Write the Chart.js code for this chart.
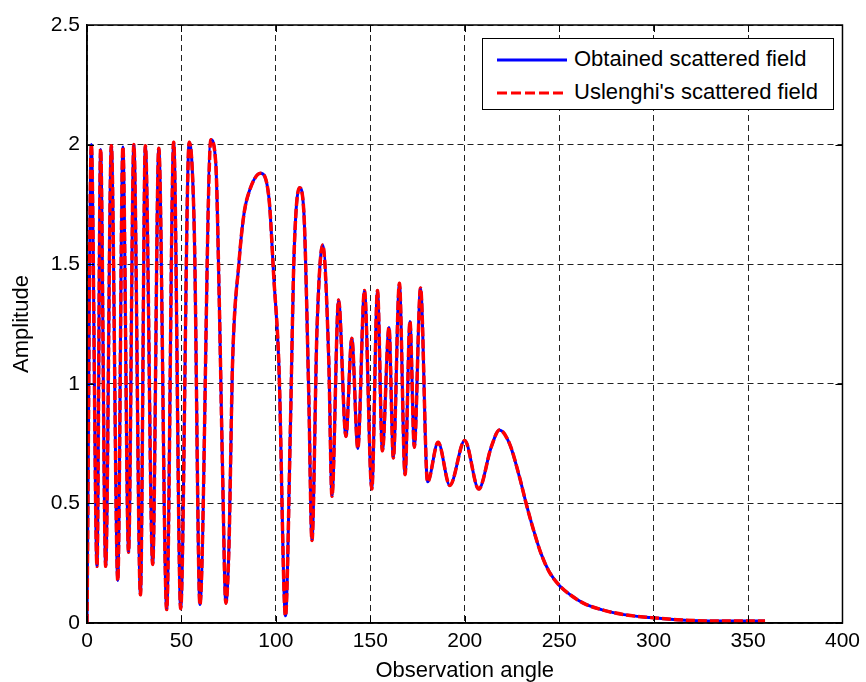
<!DOCTYPE html>
<html>
<head>
<meta charset="utf-8">
<script src="https://cdn.jsdelivr.net/npm/chart.js@4/dist/chart.umd.min.js"></script>
<style>
    html, body { margin: 0; padding: 0; background: #fff; }
    #wrap { position: relative; width: 866px; height: 682px; }
    #legend {
        position: absolute; left: 482px; top: 38px; width: 350px; height: 70px;
        border: 1px solid #000; background: #fff;
        font-family: "Liberation Sans", Arial, sans-serif; font-size: 22px; color: #000;
    }
    .item { position: absolute; left: 0; height: 30px; line-height: 30px; white-space: nowrap; }
    .item svg { position: absolute; left: 14px; top: 13px; }
    .item span { position: absolute; left: 91px; top: 0; }
</style>
</head>
<body>
<div id="wrap">
    <canvas id="myChart" width="866" height="682"></canvas>
    <div id="legend">
        <div class="item" style="top:5px">
            <svg width="72" height="6"><line x1="0" y1="3" x2="70" y2="3" stroke="#0000ff" stroke-width="3"/></svg>
            <span>Obtained scattered field</span>
        </div>
        <div class="item" style="top:38px">
            <svg width="72" height="6"><line x1="0" y1="3" x2="70" y2="3" stroke="#ff0000" stroke-width="3" stroke-dasharray="10,4"/></svg>
            <span>Uslenghi's scattered field</span>
        </div>
    </div>
</div>
<script>
// (angle in degrees, amplitude)
var angles = [
    0, 2.3, 5.3, 7.2, 9.9, 12.9, 16.3, 19.0, 22.0, 24.8,
    28.3, 30.9, 34.8, 38.0, 42.2, 45.9, 49.6, 54.1, 56.8, 59.8,
    65.6, 68.2, 70.0, 71.7, 73.5, 75.2, 77.0, 80.5, 83.1, 85.7,
    91.9, 96.3, 98.9, 101.6, 105.1, 107.7, 109.5, 112.5, 114.8,
    117.4, 119.1, 121.8, 124.8, 128.0, 129.7, 133.2, 137.1, 140.2, 143.4,
    146.9, 150.8, 153.8, 156.4, 159.9, 162.2, 165.4, 168.4, 171.0, 173.3,
    176.6, 180.3, 185.9, 192.1, 200.0, 207.4, 214.0, 218.4, 223.7, 229.0,
    232.5, 236.0, 240.4, 244.8, 250.1, 256.2, 263.3, 273.8, 284.3, 298.4,
    312.4, 333.5, 359
];
var obtainedField = [
    0, 2.00, 0.237, 1.98, 0.237, 1.995, 0.178, 1.99, 0.296, 2.00,
    0.118, 1.995, 0.245, 1.985, 0.056, 2.01, 0.06, 2.01, 1.64, 0.077,
    2.02, 1.92, 1.36, 0.665, 0.083, 0.33, 1.07, 1.51, 1.71, 1.80,
    1.88, 1.78, 1.445, 1.08, 0.03, 0.82, 1.51, 1.82, 1.72,
    0.96, 0.345, 1.235, 1.58, 1.10, 0.53, 1.35, 0.78, 1.19, 0.73,
    1.39, 0.56, 1.39, 0.72, 1.235, 0.69, 1.42, 0.62, 1.26, 0.735,
    1.40, 0.59, 0.756, 0.575, 0.763, 0.56, 0.735, 0.807, 0.75, 0.61,
    0.50, 0.40, 0.29, 0.213, 0.157, 0.116, 0.081, 0.053, 0.035, 0.0225,
    0.014, 0.008, 0.008
];
// both curves lie on top of each other in the figure
var uslenghiField = obtainedField.slice();

var xTicks = [0, 50, 100, 150, 200, 250, 300, 350, 400];
var yTicks = [0, 0.5, 1, 1.5, 2, 2.5];

var FONT = '"Liberation Sans", Arial, sans-serif';

function toPoints(xs, ys) {
    return xs.map(function(x, i) { return { x: x, y: ys[i] }; });
}

// box round the plot + little inward ticks like matlab
var boxPlugin = {
    id: 'box',
    afterDraw: function(chart) {
        var ctx = chart.ctx, a = chart.chartArea;
        var xs = chart.scales.x, ys = chart.scales.y;
        ctx.save();
        ctx.strokeStyle = '#000';
        ctx.lineWidth = 1.5;
        ctx.strokeRect(a.left, a.top, a.right - a.left, a.bottom - a.top);
        ctx.lineWidth = 1;
        ctx.beginPath();
        xTicks.forEach(function(t) {
            var px = Math.round(xs.getPixelForValue(t)) + 0.5;
            ctx.moveTo(px, a.bottom); ctx.lineTo(px, a.bottom - 7);
            ctx.moveTo(px, a.top); ctx.lineTo(px, a.top + 7);
        });
        yTicks.forEach(function(t) {
            var py = Math.round(ys.getPixelForValue(t)) + 0.5;
            ctx.moveTo(a.left, py); ctx.lineTo(a.left + 7, py);
            ctx.moveTo(a.right, py); ctx.lineTo(a.right - 7, py);
        });
        ctx.stroke();
        ctx.restore();
    }
};

var ctx = document.getElementById('myChart').getContext('2d');
var myChart = new Chart(ctx, {
    type: 'line',
    data: {
        datasets: [{
            label: "Uslenghi's scattered field",
            data: toPoints(angles, uslenghiField),
            borderColor: '#ff0000',
            borderWidth: 3.5,
            borderDash: [9, 3],
            pointRadius: 0,
            cubicInterpolationMode: 'monotone',
            fill: false,
            order: 0
        }, {
            label: 'Obtained scattered field',
            data: toPoints(angles, obtainedField),
            borderColor: '#0000ff',
            borderWidth: 3,
            pointRadius: 0,
            cubicInterpolationMode: 'monotone',
            fill: false,
            order: 1
        }]
    },
    options: {
        responsive: false,
        animation: false,
        layout: { padding: { top: 25, right: 20, left: 0, bottom: 0 } },
        plugins: {
            legend: { display: false },
            tooltip: { enabled: false }
        },
        scales: {
            x: {
                type: 'linear',
                min: 0,
                max: 400,
                afterBuildTicks: function(scale) {
                    scale.ticks = xTicks.map(function(v) { return { value: v }; });
                },
                afterFit: function(scale) { scale.height = 59; },
                ticks: {
                    font: { family: FONT, size: 21 }, color: '#000', padding: 6, maxRotation: 0,
                    callback: function(v) { return String(v); }
                },
                grid: { color: '#222', lineWidth: 1, drawTicks: false },
                border: { display: true, color: '#000', width: 1.5, dash: [6, 4] },
                title: {
                    display: true,
                    text: 'Observation angle',
                    font: { family: FONT, size: 22 },
                    color: '#000',
                    padding: { top: 0, bottom: -2 }
                }
            },
            y: {
                type: 'linear',
                min: 0,
                max: 2.5,
                afterBuildTicks: function(scale) {
                    scale.ticks = yTicks.map(function(v) { return { value: v }; });
                },
                afterFit: function(scale) { scale.width = 87; },
                ticks: {
                    font: { family: FONT, size: 21 }, color: '#000', padding: 7,
                    callback: function(v) { return String(v); }
                },
                grid: { color: '#222', lineWidth: 1, drawTicks: false },
                border: { display: true, color: '#000', width: 1.5, dash: [6, 4] },
                title: {
                    display: true,
                    text: 'Amplitude',
                    font: { family: FONT, size: 22 },
                    color: '#000',
                    padding: { top: 9, bottom: 0 }
                }
            }
        }
    },
    plugins: [boxPlugin]
});
</script>
</body>
</html>
